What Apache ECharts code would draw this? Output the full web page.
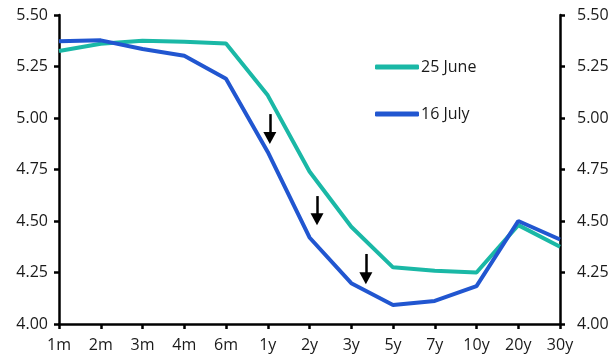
<!DOCTYPE html>
<html><head><meta charset="utf-8">
<script src="https://cdn.jsdelivr.net/npm/echarts@6/dist/echarts.min.js"></script>
<style>html,body{margin:0;padding:0;background:#fff}#c{width:616px;height:362px}</style>
</head><body><div id="c"></div>
<script>
const categories = ['1m','2m','3m','4m','6m','1y','2y','3y','5y','7y','10y','20y','30y'];
const june25 = [5.325,5.36,5.375,5.37,5.362,5.11,4.74,4.472,4.275,4.258,4.25,4.48,4.375];
const july16 = [5.372,5.377,5.335,5.302,5.19,4.835,4.42,4.198,4.092,4.112,4.184,4.50,4.41];
const seriesNames = ['25 June','16 July'];
// arrows: [position along the maturity axis (category index), from value, to value]
const arrows = [[5.05,5.019,4.903],[6.18,4.621,4.508],[7.35,4.34,4.222]];

const font = 'Open Sans';
function yAxisCfg(pos, margin){
  return {
    type:'value', position:pos, min:4, max:5.5, interval:0.25,
    axisLine:{show:true, lineStyle:{color:'#000', width:2.5}},
    axisTick:{show:true, length:5, lineStyle:{color:'#000', width:2.5}},
    splitLine:{show:false},
    axisLabel:{formatter:v=>v.toFixed(2), color:'#1a1a1a', fontSize:16, fontFamily:font, margin:margin}
  };
}
const chart = echarts.init(document.getElementById('c'));
chart.setOption({
  animation:false,
  grid:{left:59, right:56, top:15, bottom:38},
  legend:{orient:'vertical', left:375, top:59, padding:0, itemGap:31, itemWidth:44, itemHeight:5,
    icon:'roundRect', textStyle:{fontSize:16, fontFamily:font, color:'#1a1a1a', padding:[0,0,0,-3]},
    data:seriesNames},
  xAxis:[{type:'category', data:categories, boundaryGap:false,
    axisLine:{lineStyle:{color:'#000', width:2.5}},
    axisTick:{show:true, length:5, alignWithLabel:true, lineStyle:{color:'#000', width:2.5}},
    axisLabel:{color:'#1a1a1a', fontSize:16, fontFamily:font, margin:13}},
    {type:'value', min:0, max:categories.length-1, show:false}],
  yAxis:[yAxisCfg('left', 11), yAxisCfg('right', 17)],
  series:[
    {name:seriesNames[0], type:'line', data:june25, symbol:'none', color:'#1ab8a6',
      lineStyle:{width:4, color:'#1ab8a6'}},
    {name:seriesNames[1], type:'line', data:july16, symbol:'none', color:'#2156d0',
      lineStyle:{width:4, color:'#2156d0'}},
    {name:'arrows', type:'line', xAxisIndex:1, data:[], symbol:'none',
      markLine:{silent:true, symbol:['none','triangle'], symbolSize:[13,12],
        lineStyle:{color:'#000', width:2.5, type:'solid'}, label:{show:false},
        data:arrows.map(a=>[{coord:[a[0],a[1]]},{coord:[a[0],a[2]]}])}}
  ]
});
</script></body></html>
